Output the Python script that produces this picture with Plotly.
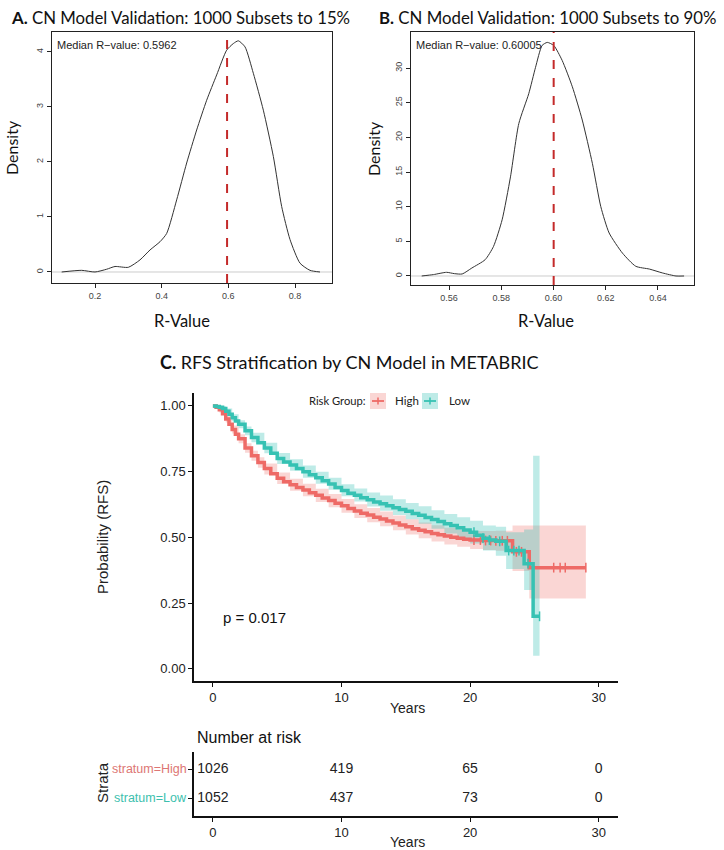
import numpy as np
import plotly.graph_objects as go

W, H = 724, 850

# ---------------- Panel A density (R-values, 15% subsets) ----------------
a_x = [0.10, 0.16, 0.20, 0.235, 0.26, 0.30, 0.335, 0.365, 0.395, 0.415, 0.445, 0.475,
       0.505, 0.535, 0.565, 0.595, 0.615, 0.63, 0.65, 0.675, 0.705, 0.735, 0.76, 0.785,
       0.815, 0.845, 0.875]
a_d = [0.0, 0.03, 0.0, 0.05, 0.10, 0.085, 0.22, 0.40, 0.55, 0.70, 1.31, 1.98,
       2.58, 3.12, 3.58, 4.03, 4.15, 4.20, 4.09, 3.61, 2.94, 2.10, 1.19, 0.59,
       0.16, 0.03, 0.0]
a_median = 0.5962

# ---------------- Panel B density (R-values, 90% subsets) ----------------
b_x = [0.5495, 0.554, 0.559, 0.562, 0.565, 0.5687, 0.5738, 0.577, 0.5803, 0.5835,
       0.5867, 0.5905, 0.5931, 0.5956, 0.5976, 0.6001, 0.6033, 0.6072, 0.611, 0.6149,
       0.6181, 0.6213, 0.6264, 0.6315, 0.6367, 0.6418, 0.6469, 0.65]
b_d = [0.0, 0.2, 0.53, 0.34, 0.29, 1.15, 2.35, 4.26, 8.1, 14.3,
       22.0, 26.3, 30.1, 33.25, 33.7, 33.25, 31.1, 27.3, 22.5, 16.2,
       10.0, 6.2, 3.3, 1.4, 1.0, 0.43, 0.0, 0.0]
b_median = 0.60005

# ---------------- Panel C Kaplan-Meier ----------------
high_t = [0, 0.25, 0.5, 0.75, 1, 1.25, 1.5, 1.75, 2, 2.5, 3, 3.5, 4, 4.5, 5, 5.5, 6, 6.5,
          7, 7.5, 8, 8.5, 9, 9.5, 10, 10.5, 11, 11.5, 12, 12.5, 13, 13.5, 14, 14.5, 15,
          15.5, 16, 16.5, 17, 17.5, 18, 18.5, 19, 19.5, 20, 21, 22, 23.3, 24.6, 29]
high_s = [1.0, 0.995, 0.985, 0.97, 0.95, 0.93, 0.91, 0.892, 0.875, 0.84, 0.81, 0.785,
          0.762, 0.742, 0.725, 0.712, 0.70, 0.69, 0.68, 0.67, 0.66, 0.65, 0.64, 0.63,
          0.62, 0.61, 0.60, 0.592, 0.585, 0.577, 0.57, 0.562, 0.555, 0.547, 0.54, 0.533,
          0.527, 0.521, 0.515, 0.51, 0.505, 0.501, 0.497, 0.493, 0.49, 0.488, 0.487,
          0.445, 0.385, 0.385]
high_band_t = [0, 0.5, 1, 1.5, 2, 2.5, 3, 3.5, 4, 5, 6, 7, 8, 9, 10, 11, 12, 13, 14, 15,
               16, 17, 18, 19, 20, 21, 22, 23.3, 24.6, 29]
high_lo = [1.0, 0.975, 0.937, 0.895, 0.858, 0.822, 0.791, 0.765, 0.739, 0.703, 0.677,
           0.656, 0.635, 0.615, 0.594, 0.574, 0.558, 0.542, 0.527, 0.511, 0.497, 0.484,
           0.473, 0.464, 0.456, 0.452, 0.449, 0.372, 0.268, 0.268]
high_up = [1.0, 0.996, 0.963, 0.925, 0.892, 0.858, 0.829, 0.805, 0.781, 0.747, 0.723,
           0.704, 0.685, 0.665, 0.646, 0.626, 0.612, 0.598, 0.583, 0.569, 0.557, 0.546,
           0.537, 0.530, 0.524, 0.524, 0.525, 0.545, 0.545, 0.545]
high_censor = [20.3, 20.8, 21.2, 21.6, 22.0, 22.5, 22.9, 23.6, 24.0, 26.5, 27.0, 27.4, 29.0]

low_t = [0, 0.25, 0.5, 0.75, 1, 1.25, 1.5, 1.75, 2, 2.5, 3, 3.5, 4, 4.5, 5, 5.5, 6, 6.5,
         7, 7.5, 8, 8.5, 9, 9.5, 10, 10.5, 11, 11.5, 12, 12.5, 13, 13.5, 14, 14.5, 15,
         15.5, 16, 16.5, 17, 17.5, 18, 18.5, 19, 19.5, 20, 20.5, 21, 21.5, 22, 22.8,
         24.2, 24.9, 25.4]
low_s = [1.0, 0.998, 0.995, 0.99, 0.98, 0.968, 0.955, 0.943, 0.93, 0.905, 0.88, 0.86,
         0.84, 0.82, 0.80, 0.787, 0.775, 0.762, 0.75, 0.738, 0.727, 0.715, 0.703, 0.69,
         0.678, 0.668, 0.66, 0.651, 0.643, 0.635, 0.628, 0.62, 0.613, 0.606, 0.599,
         0.591, 0.584, 0.576, 0.568, 0.56, 0.552, 0.545, 0.537, 0.528, 0.52, 0.508,
         0.497, 0.49, 0.485, 0.45, 0.40, 0.20, 0.20]
low_band_t = [0, 0.5, 1, 1.5, 2, 2.5, 3, 4, 5, 6, 7, 8, 9, 10, 11, 12, 13, 14, 15, 16, 17,
              18, 19, 20, 21, 22, 22.8, 24.2, 24.9, 25.4]
low_lo = [1.0, 0.99, 0.97, 0.942, 0.915, 0.888, 0.862, 0.82, 0.779, 0.753, 0.727,
          0.704, 0.681, 0.656, 0.636, 0.617, 0.601, 0.585, 0.569, 0.552, 0.533, 0.515,
          0.497, 0.477, 0.45, 0.43, 0.38, 0.30, 0.05, 0.05]
low_up = [1.0, 0.999, 0.99, 0.968, 0.945, 0.922, 0.898, 0.86, 0.821, 0.797, 0.773,
          0.75, 0.727, 0.702, 0.686, 0.671, 0.659, 0.645, 0.631, 0.618, 0.603, 0.589,
          0.577, 0.563, 0.545, 0.54, 0.52, 0.53, 0.81, 0.81]
low_censor = [20.3, 21.0, 21.5, 22.3, 23.0, 23.4, 23.8, 24.5, 25.4]

p_value_text = "p = 0.017"

# ---------------- Number at risk ----------------
risk_times = [0, 10, 20, 30]
risk_high = [1026, 419, 65, 0]
risk_low = [1052, 437, 73, 0]
strata_labels = ["stratum=High", "stratum=Low"]

RED = "#EE6A66"
TEAL = "#36C2B3"
RED_FILL = "rgba(238,106,102,0.28)"
TEAL_FILL = "rgba(54,194,179,0.32)"


def px(x):
    return x / W


def py(y):
    return 1 - y / H


def step_at(ts, ss, t):
    i = np.searchsorted(np.array(ts), t, side="right") - 1
    return ss[max(i, 0)]


fig = go.Figure()

# Panel A
fig.add_trace(go.Scatter(x=a_x, y=a_d, mode="lines", line=dict(color="#333", width=1, shape="spline", smoothing=0.6),
                         xaxis="x", yaxis="y", showlegend=False))
# Panel B
fig.add_trace(go.Scatter(x=b_x, y=b_d, mode="lines", line=dict(color="#333", width=1, shape="spline", smoothing=0.6),
                         xaxis="x2", yaxis="y2", showlegend=False))

# KM bands
for t, lo, up, fc in [(high_band_t, high_lo, high_up, RED_FILL), (low_band_t, low_lo, low_up, TEAL_FILL)]:
    fig.add_trace(go.Scatter(x=t, y=lo, mode="lines", line=dict(width=0, shape="hv"),
                             xaxis="x3", yaxis="y3", showlegend=False, hoverinfo="skip"))
    fig.add_trace(go.Scatter(x=t, y=up, mode="lines", line=dict(width=0, shape="hv"),
                             fill="tonexty", fillcolor=fc,
                             xaxis="x3", yaxis="y3", showlegend=False, hoverinfo="skip"))

# KM curves
for t, s, cens, col in [(high_t, high_s, high_censor, RED), (low_t, low_s, low_censor, TEAL)]:
    fig.add_trace(go.Scatter(x=t, y=s, mode="lines", line=dict(color=col, width=3.5, shape="hv"),
                             xaxis="x3", yaxis="y3", showlegend=False))
    fig.add_trace(go.Scatter(x=cens, y=[step_at(t, s, c) for c in cens], mode="markers",
                             marker=dict(symbol="line-ns-open", size=7, color=col,
                                         line=dict(color=col, width=1.5)),
                             xaxis="x3", yaxis="y3", showlegend=False))

# Risk table numbers
fig.add_trace(go.Scatter(x=risk_times, y=[2] * 4, mode="text", text=[str(v) for v in risk_high],
                         textfont=dict(family="Liberation Sans", size=14, color="#222"),
                         xaxis="x4", yaxis="y4", showlegend=False))
fig.add_trace(go.Scatter(x=risk_times, y=[1] * 4, mode="text", text=[str(v) for v in risk_low],
                         textfont=dict(family="Liberation Sans", size=14, color="#222"),
                         xaxis="x4", yaxis="y4", showlegend=False))

rfont = dict(family="Liberation Sans", size=9, color="#444")
box_ax = dict(showline=True, linecolor="#222", linewidth=1, mirror=True, ticks="outside",
              ticklen=4, tickcolor="#222", showgrid=False, zeroline=False, tickfont=rfont)
km_ax = dict(showline=True, linecolor="#111", linewidth=1.5, ticks="outside", ticklen=4,
             tickcolor="#111", tickwidth=1.2, showgrid=False, zeroline=False,
             tickfont=dict(family="Liberation Sans", size=13, color="#222"))

fig.update_layout(
    width=W, height=H, margin=dict(l=0, r=0, t=0, b=0),
    paper_bgcolor="white", plot_bgcolor="white", showlegend=False,
    xaxis=dict(domain=[px(52), px(332)], range=[0.071, 0.911], tickvals=[0.2, 0.4, 0.6, 0.8],
               ticktext=["0.2", "0.4", "0.6", "0.8"], anchor="y", **box_ax),
    yaxis=dict(domain=[py(283), py(32)], range=[-0.2, 4.36], tickvals=[0, 1, 2, 3, 4],
               tickangle=-90, anchor="x", **box_ax),
    xaxis2=dict(domain=[px(411), px(694)], range=[0.5454, 0.6538],
                tickvals=[0.56, 0.58, 0.60, 0.62, 0.64],
                ticktext=["0.56", "0.58", "0.60", "0.62", "0.64"], anchor="y2", **box_ax),
    yaxis2=dict(domain=[py(285), py(32)], range=[-1.3, 35.2], tickvals=[0, 5, 10, 15, 20, 25, 30],
                tickangle=-90, anchor="x2", **box_ax),
    xaxis3=dict(domain=[px(194), px(618)], range=[-1.47, 31.5], tickvals=[0, 10, 20, 30],
                anchor="y3", **km_ax),
    yaxis3=dict(domain=[py(681), py(393)], range=[-0.046, 1.049], tickvals=[0, 0.25, 0.5, 0.75, 1.0],
                ticktext=["0.00", "0.25", "0.50", "0.75", "1.00"], anchor="x3", **km_ax),
    xaxis4=dict(domain=[px(194), px(618)], range=[-1.47, 31.5], tickvals=[0, 10, 20, 30],
                anchor="y4", **km_ax),
    yaxis4=dict(domain=[py(816), py(752)], range=[0.38, 2.59], tickvals=[1, 2], ticktext=["", ""],
                anchor="x4", **km_ax),
)

shapes = []
shapes.append(dict(type="line", xref="x domain", yref="y", x0=0, x1=1, y0=0, y1=0,
                   line=dict(color="#cccccc", width=1), layer="below"))
shapes.append(dict(type="line", xref="x2 domain", yref="y2", x0=0, x1=1, y0=0, y1=0,
                   line=dict(color="#cccccc", width=1), layer="below"))
shapes.append(dict(type="line", xref="x", yref="y domain", x0=a_median, x1=a_median, y0=0, y1=1,
                   line=dict(color="#C42A2A", width=2, dash="dash")))
shapes.append(dict(type="line", xref="x2", yref="y2 domain", x0=b_median, x1=b_median, y0=0, y1=1,
                   line=dict(color="#C42A2A", width=2, dash="dash")))

# manual legend keys
for x0, fc, col in [(370, RED_FILL, RED), (422, TEAL_FILL, TEAL)]:
    shapes.append(dict(type="rect", xref="paper", yref="paper", x0=px(x0), x1=px(x0 + 16),
                       y0=py(409), y1=py(393), fillcolor=fc, line=dict(width=0)))
    shapes.append(dict(type="line", xref="paper", yref="paper", x0=px(x0 + 2), x1=px(x0 + 14),
                       y0=py(401), y1=py(401), line=dict(color=col, width=1.8)))
    shapes.append(dict(type="line", xref="paper", yref="paper", x0=px(x0 + 8), x1=px(x0 + 8),
                       y0=py(397.5), y1=py(404.5), line=dict(color=col, width=1.5)))
fig.update_layout(shapes=shapes)

cal = "Lato"
ann = []


def A(text, x, y, size, color="#111", family=cal, xanchor="center", yanchor="middle", angle=0):
    ann.append(dict(text=text, x=px(x), y=py(y), xref="paper", yref="paper", showarrow=False,
                    xanchor=xanchor, yanchor=yanchor, textangle=angle,
                    font=dict(family=family, size=size, color=color)))


A("<b>A.</b> CN Model Validation: 1000 Subsets to 15%", 9, 17, 16.8, xanchor="left")
A("<b>B.</b> CN Model Validation: 1000 Subsets to 90%", 377, 17, 16.8, xanchor="left")
A("Median R\u2212value: 0.5962", 55, 45, 11, family="Liberation Sans", xanchor="left", color="#222")
A("Median R\u2212value: 0.60005", 414, 45, 11, family="Liberation Sans", xanchor="left", color="#222")
A("Density", 12, 148, 16, angle=-90)
A("Density", 374, 148, 16, angle=-90)
A("R-Value", 182, 321, 16.5)
A("R-Value", 546, 321, 16.5)
A("<b>C.</b> RFS Stratification by CN Model in METABRIC", 349, 362, 18)
A("Risk Group:", 307, 401, 11.2, xanchor="left", color="#222")
A("High", 393, 401, 11.5, xanchor="left", color="#222")
A("Low", 447, 401, 11.5, xanchor="left", color="#222")
A("Probability (RFS)", 102, 537, 15, family="Liberation Sans", angle=-90, color="#222")
A("Years", 407, 708, 14, family="Liberation Sans", color="#222")
A(p_value_text, 221, 617, 15, family="Liberation Sans", xanchor="left", color="#111")
A("Number at risk", 195, 737, 16, family="Liberation Sans", xanchor="left", color="#111")
A(strata_labels[0], 189, 769, 12.5, family="Liberation Sans", xanchor="right", color="#DD7674")
A(strata_labels[1], 189, 798, 12.5, family="Liberation Sans", xanchor="right", color="#3DBFAE")
A("Strata", 102, 783, 15, family="Liberation Sans", angle=-90, color="#222")
A("Years", 407, 842, 14, family="Liberation Sans", color="#222")
fig.update_layout(annotations=ann)

fig.write_html("out.html")
